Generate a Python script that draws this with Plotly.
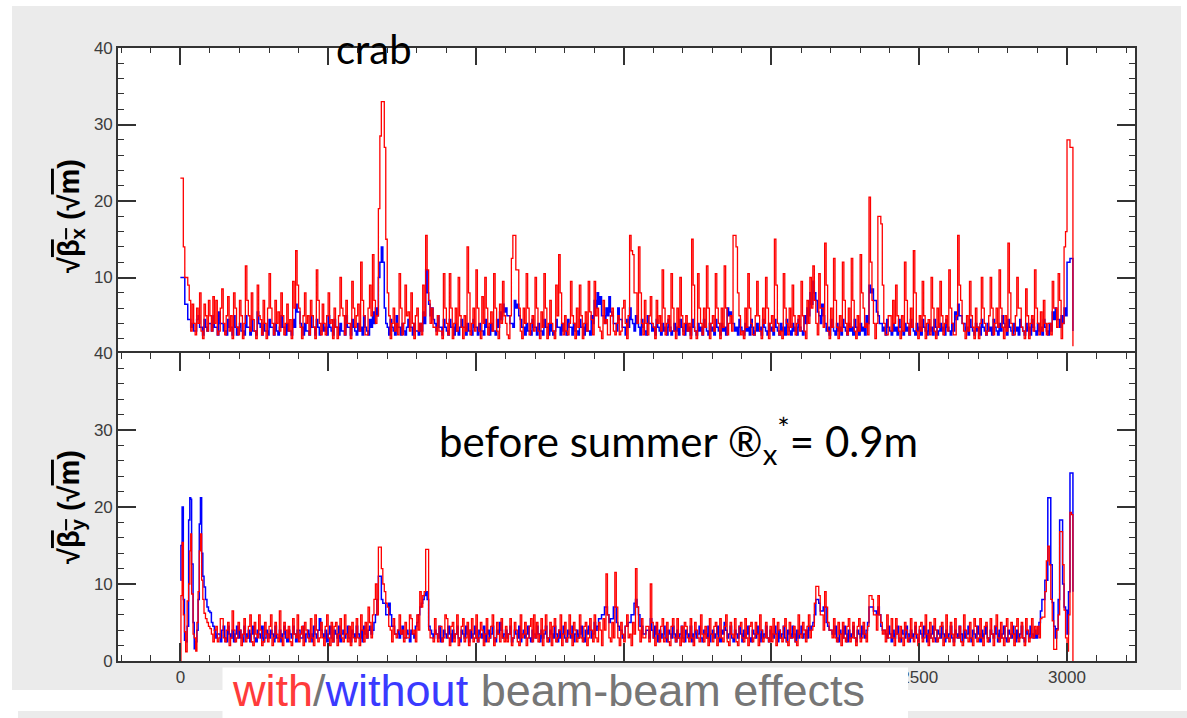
import plotly.graph_objects as go

W, H = 1187, 718

# ---------------- data ----------------
# top panel: sqrt(beta_x), sampled every 5 units of s (one row = 100 units)
s_top = list(range(0, 3025, 5))
red_top = [
    23, 23, 14, 10, 10, 9, 7, 3, 6.5, 4, 2.5, 6, 4, 8, 3, 2, 6.5, 5, 3, 7,
    5, 3, 7.5, 4, 7, 2.5, 3, 6, 8.5, 4, 2.5, 5, 7.5, 3, 5, 2, 8, 6, 3.5, 2.5,
    7, 5, 2, 4, 11.5, 7, 5, 3, 8, 4.5, 3, 2, 9, 5, 4.5, 2.5, 7, 4, 2, 6,
    10.5, 6, 4, 2.5, 7, 4, 5.5, 3, 8, 5, 2.5, 4, 6.5, 3, 4.5, 2, 9.5, 6, 13.5, 9,
    6, 3.5, 2, 5, 8, 4, 5, 2.5, 7, 5, 3.5, 2, 11, 7, 4, 2.5, 6.5, 4, 2.5, 5,
    8, 4, 4.5, 2, 6, 3.5, 2, 5, 10, 6, 5, 2.5, 7, 4, 4, 2, 9.5, 6, 3.5, 5,
    6.5, 3, 12, 7, 5, 2.5, 2.5, 6, 9, 5, 13, 7, 4, 5, 19, 28.5, 33, 33, 27, 15,
    8, 5, 2, 4, 6, 3, 4, 2.5, 10.5, 6, 2.5, 4, 9, 5, 5.5, 3, 8, 4, 2, 5,
    6, 3, 4, 2.5, 9, 5, 15.5, 11, 7, 4, 6, 3.5, 3.5, 2.5, 5, 3, 3, 2, 10.5, 6,
    4, 2.5, 10.5, 6, 2, 4, 6, 3, 10, 5, 3.5, 2, 5, 3, 14, 8, 2.5, 4, 6, 3,
    11, 6, 3, 2, 7.5, 4, 10, 6, 2.5, 4, 5.5, 3, 10.5, 6, 3, 2, 6.5, 4, 9.5, 5,
    4, 2.5, 2, 5, 12.5, 15.5, 15.5, 11, 11, 6, 3, 2, 6, 4, 10.5, 6, 2.5, 4, 5, 3,
    10, 6, 3, 2, 5.5, 3.5, 10.5, 6, 2, 4, 7, 4, 3, 2, 9, 5, 13, 8, 4, 2.5,
    5, 3, 2.5, 4, 9.5, 5, 4, 2, 6, 3.5, 9, 5, 2, 4, 5.5, 3, 9.5, 5.5, 4.5, 2.5,
    9.5, 5, 6, 3.5, 3, 2, 7, 4, 4.5, 2.5, 2.5, 5, 6, 3, 2.5, 4, 5, 2.5, 3, 6,
    7, 4, 2, 5, 15.5, 13.5, 13, 8, 8, 4, 14, 8, 4, 2.5, 7, 4, 2.5, 5, 7.5, 4,
    3.5, 2, 7, 4, 5, 3, 11, 6, 2.5, 4, 5, 3, 10.5, 6, 3, 2, 6, 3.5, 10, 5,
    2.5, 4, 5, 3, 4, 2, 15, 9, 3, 2, 10.5, 6, 4, 2.5, 6, 3.5, 11.5, 6, 2, 4,
    5, 3, 10.5, 6, 4, 2, 6, 3.5, 11.5, 6, 2.5, 4, 5, 3, 15.5, 15.5, 14, 8, 5, 2.5,
    3, 2, 6, 3.5, 10.5, 6, 4, 2.5, 2.5, 5, 9.5, 5, 3, 2, 6, 4, 10, 6, 2, 4,
    5, 3, 15, 9, 4, 2.5, 3, 2, 10.5, 6, 4, 2.5, 6, 3.5, 9, 5, 2.5, 4, 5, 3,
    9.5, 5, 3, 2, 7, 4, 10, 6, 11.5, 7, 4, 2.5, 10.5, 6, 6, 3.5, 14.5, 9, 3, 2,
    6, 3.5, 12.5, 7, 3.5, 2, 5, 3, 12, 7, 4, 2.5, 6, 3.5, 12.5, 7, 3, 2, 5, 3,
    13, 8, 6, 3.5, 4, 2.5, 20.5, 12, 7, 4, 2, 4, 18, 18, 17, 9, 4, 2.5, 2.5, 5,
    5, 3, 7, 4, 9, 5, 3, 2, 5, 3, 12, 7, 4, 2.5, 6, 3.5, 13.5, 8, 3, 2,
    5, 3, 9.5, 5, 2, 4, 4.5, 2.5, 10, 6, 3, 2, 6, 3.5, 9.5, 5, 2.5, 4, 5, 3,
    11, 6, 4, 2.5, 2.5, 5, 15.5, 9, 7, 4, 3, 2, 5, 3, 9.5, 5, 3.5, 2, 6, 3.5,
    2, 4, 10, 6, 4, 2.5, 3, 5, 10, 6, 2.5, 4, 6, 3.5, 11, 6, 3.5, 2, 5, 3,
    14.5, 8, 4, 2.5, 2.5, 5, 10, 6, 6, 3.5, 3, 2, 8.5, 5, 2, 4, 5, 3, 11, 6,
    4, 2.5, 5.5, 3, 7, 4, 2.5, 4, 4, 2.5, 9.5, 6, 6, 3.5, 10.5, 7, 2, 4, 14, 16,
    28, 28, 27, 27, 1,
]
blue_top = [
    10, 10, 10, 6.5, 6.5, 4.5, 4.5, 3.5, 4, 3, 3, 4.5, 5, 3.5, 3.5, 2.5, 4.5, 3.5, 3, 4,
    4, 3, 5, 3.5, 3.5, 2.5, 5.5, 4, 4, 3, 3, 2.5, 4.5, 3.5, 3.5, 2.5, 5, 3.5, 2.5, 3.5,
    4, 3, 3, 2.5, 5, 3.5, 3.5, 2.5, 4.5, 3, 3, 2.5, 5.5, 4, 3.5, 2.5, 4, 3, 3, 2.5,
    4.5, 3.5, 3.5, 2.5, 4, 3, 2.5, 3.5, 5, 3.5, 3.5, 2.5, 4, 3, 3, 2.5, 4.5, 3.5, 6.5, 5.5,
    5.5, 4, 3.5, 2.5, 4, 3, 3, 2.5, 5, 3.5, 3.5, 2.5, 4.5, 3.5, 2.5, 3, 4, 3, 3.5, 2.5,
    5, 3.5, 3, 2.5, 4.5, 3.5, 3.5, 2.5, 4, 3, 3, 2.5, 5, 3.5, 3.5, 2.5, 4.5, 3.5, 3, 2.5,
    4, 3, 3.5, 2.5, 5, 3.5, 3, 2.5, 4.5, 3.5, 5.5, 4, 6, 5, 10, 12, 14, 12, 6, 4,
    3.5, 2.5, 4.5, 3.5, 3, 2.5, 5, 3.5, 3.5, 2.5, 4, 3, 2.5, 3.5, 4.5, 3.5, 3.5, 2.5, 4, 3,
    3, 2.5, 4, 3, 5.5, 4, 11, 8, 6.5, 5, 6, 4.5, 4, 3, 5, 3.5, 3.5, 2.5, 4.5, 3.5,
    3, 2.5, 4.5, 3.5, 3.5, 2.5, 4, 3, 2.5, 3.5, 4.5, 3.5, 3.5, 2.5, 4, 3, 3, 2.5, 4.5, 3.5,
    3.5, 2.5, 4, 3, 3, 2.5, 4.5, 3.5, 3.5, 2.5, 4, 3, 3, 2.5, 4.5, 3.5, 5.5, 4.5, 6.5, 5.5,
    6, 5, 5, 4, 4, 3.5, 7, 6, 6.5, 5, 4.5, 3.5, 3.5, 2.5, 4, 3, 3, 2.5, 4.5, 3.5,
    3.5, 2.5, 4, 3, 3, 2.5, 4.5, 3.5, 3.5, 2.5, 4, 3, 2.5, 3, 4.5, 3.5, 3.5, 2.5, 4, 3,
    3, 2.5, 4.5, 3.5, 3.5, 2.5, 4, 3, 3, 2.5, 4.5, 3.5, 3.5, 2.5, 4, 3, 3, 2.5, 5, 4,
    7, 6, 8, 6.5, 7.5, 5, 5, 4, 6, 5, 7.5, 5.5, 5, 4, 4, 3, 6, 4.5, 4.5, 3.5,
    3.5, 2.5, 4.5, 3.5, 6, 4.5, 4, 3, 5, 4, 3.5, 2.5, 4.5, 3.5, 3, 2.5, 5, 4, 4, 3,
    3.5, 2.5, 4.5, 3.5, 3, 2.5, 4, 3, 3.5, 2.5, 4.5, 3.5, 2.5, 3, 4, 3, 3.5, 2.5, 4.5, 3.5,
    3, 2.5, 4, 3, 3.5, 2.5, 4.5, 3.5, 3, 2.5, 4, 3, 3.5, 2.5, 4.5, 3.5, 3, 2.5, 4, 3,
    3.5, 2.5, 4.5, 3.5, 3, 2.5, 4, 3, 3.5, 2.5, 6, 5, 5.5, 4, 4, 3, 3.5, 2.5, 4.5, 3.5,
    3, 2.5, 4, 3, 3.5, 2.5, 4.5, 3.5, 2.5, 3, 4, 3, 3.5, 2.5, 4.5, 3.5, 3, 2.5, 4, 3,
    3.5, 2.5, 4.5, 3.5, 3, 2.5, 4, 3, 3.5, 2.5, 4.5, 3.5, 3, 2.5, 4, 3, 3.5, 2.5, 4.5, 3.5,
    3, 2.5, 5, 4, 6, 5, 8, 6.5, 9.5, 8, 7, 5.5, 5, 4, 6.5, 5, 4, 3, 3.5, 2.5,
    4.5, 3.5, 3, 2.5, 4, 3, 3.5, 2.5, 4.5, 3.5, 3, 2.5, 4, 3, 3.5, 2.5, 4.5, 3.5, 3, 2.5,
    4, 3, 3.5, 2.5, 5, 4, 9, 8, 8.5, 7, 7, 5.5, 5, 4, 4, 3, 3.5, 2.5, 4.5, 3.5,
    3, 2.5, 4, 3, 3.5, 2.5, 4.5, 3.5, 3, 2.5, 4, 3, 3.5, 2.5, 4.5, 3.5, 3, 2.5, 4, 3,
    3.5, 2.5, 4.5, 3.5, 3, 2.5, 4, 3, 3.5, 2.5, 4.5, 3.5, 2.5, 3, 4, 3, 3.5, 2.5, 4.5, 3.5,
    3, 2.5, 4, 3, 5.5, 4.5, 6.5, 5, 5, 4, 4, 3, 3.5, 2.5, 4.5, 3.5, 3, 2.5, 4, 3,
    3.5, 2.5, 4.5, 3.5, 3, 2.5, 4, 3, 3.5, 2.5, 4.5, 3.5, 3, 2.5, 4, 3, 5, 4, 3.5, 2.5,
    4.5, 3.5, 3, 2.5, 4, 3, 3.5, 2.5, 4.5, 3.5, 3, 2.5, 4, 3, 3.5, 2.5, 4.5, 3.5, 3, 2.5,
    4, 3, 3.5, 2.5, 4.5, 3.5, 3, 2.5, 4, 3, 5.5, 4.5, 6, 4.5, 4.5, 3.5, 5, 4, 6, 5,
    12, 12, 12.5, 12.5, 3,
]

# bottom panel: sqrt(beta_y); finer sampling at the start, then every 5 units
s_bot_head = [0, 2, 6, 10, 14, 18, 23, 28, 32, 35, 38, 43, 47, 52, 56, 60,
              64, 68, 72, 76, 80, 85, 90, 95, 100, 105]
s_bot_body = list(range(110, 2900, 5))
s_bot_tail = list(range(2900, 3025, 5))

red_bot_head = [0, 8.5, 15.4, 6, 3.8, 1.2, 7.8, 10, 14.3, 16.5, 8.7, 3.5, 3,
                1.3, 5, 9, 14.3, 16.5, 10.5, 8, 6.2, 5.5, 5, 4.5, 4.2, 3.5]
blue_bot_head = [10.5, 15, 20, 8, 2.7, 2.5, 4.5, 18.3, 21.2, 21, 12.6, 5, 1.6,
                 2.5, 4, 8, 17.8, 21.2, 14, 11, 9.6, 8, 7, 6.5, 6.3, 5]

red_bot_body = [
    2.5, 4, 4.5, 2.5, 3, 5.5, 5.5, 3, 2.5, 4, 5, 2, 3, 6.5, 4, 2.5, 3, 5,
    4, 2, 3.5, 5.5, 2.5, 3, 4.5, 6, 2.5, 2, 5, 3.5, 3, 6, 4, 2, 2.5, 5, 3.5, 2.5,
    4.5, 6, 2, 3, 5, 3.5, 2.5, 6.5, 3, 2, 5, 4, 3, 4.5, 2.5, 2, 5.5, 3.5, 3, 6,
    2.5, 3.5, 4.5, 2, 5, 4, 3, 2.5, 5.5, 3, 2, 6, 4, 2.5, 3, 5, 3, 2, 4.5, 6,
    3, 2, 5, 2.5, 4.5, 5, 2, 3.5, 5.5, 3, 2.5, 6, 3.5, 2.5, 4.5, 2, 5, 3, 2.5, 5.5,
    3, 2, 6, 4, 2.5, 5, 3, 7, 5, 3, 6, 8, 10, 6, 14.8, 14.8, 12, 10, 9, 7.5,
    7, 4.5, 4, 2.5, 5.5, 3.5, 3, 4, 6, 3.5, 4, 2.5, 5, 3, 3, 6, 5.5, 3.5, 4, 2.5,
    6, 4, 9, 7, 8.5, 9, 14.5, 14.5, 4, 3, 3, 2.5, 5.5, 3.5, 2.5, 4.5, 4.5, 2.5, 3, 6,
    5.5, 3, 2, 4.5, 5, 2.5, 3.5, 6, 2, 3, 4.5, 5.5, 2.5, 3, 5, 2, 4, 5.5, 2.5, 3,
    6, 2.5, 3, 5, 4, 2, 3.5, 5.5, 2.5, 3, 4.5, 6, 2, 3, 5, 3.5, 2.5, 5.5, 3, 2.5,
    4.5, 2.5, 3.5, 5.5, 2, 3, 5, 4, 2.5, 2, 6, 3, 3.5, 5, 2, 3, 4.5, 5.5, 2.5, 6,
    3, 5, 2.5, 3.5, 5.5, 2, 4, 6, 2.5, 3, 5, 2, 4.5, 5.5, 2.5, 3, 4, 6, 2, 3.5,
    5, 2.5, 3, 6, 3.5, 2, 5, 4, 2.5, 3, 6, 3, 2.5, 4.5, 5, 2, 3, 5.5, 4, 2.5,
    6, 3, 2.5, 5, 4, 2, 5.5, 4, 11.3, 6, 3, 2.5, 5, 3, 11.5, 7, 3, 2, 5, 3.5,
    2.5, 4.5, 6, 3, 3.5, 2, 5, 3.5, 12, 7, 4, 2.5, 5.5, 3, 3, 4.5, 4.5, 2.5, 10, 5,
    3, 2, 5, 3.5, 2.5, 4.5, 5.5, 2.5, 3, 5, 2.5, 2, 4.5, 5.5, 3, 2.5, 5.5, 3, 2, 4.5,
    2.5, 5, 4.5, 3, 2.5, 5.5, 3, 2, 5, 4, 3, 2.5, 6, 3.5, 2.5, 4.5, 3, 2, 5.5, 3.5,
    2.5, 4.5, 5, 2, 3, 5.5, 3, 2.5, 4.5, 6, 2.5, 2, 5, 3.5, 3, 5.5, 2.5, 2, 4.5, 5,
    3, 2.5, 5.5, 3, 2, 4.5, 5, 2.5, 3, 5, 3.5, 2, 6, 4, 2.5, 3, 5, 3, 2.5, 4.5,
    2.5, 5.5, 3.5, 2, 5, 4, 3, 2.5, 4.5, 5.5, 2.5, 2, 5, 3, 3, 4.5, 2.5, 2, 6, 3.5,
    3, 5, 4, 2.5, 4.5, 6, 3, 4, 4.5, 7.5, 9.7, 9.7, 8.5, 6, 6, 4, 9, 7, 5, 4,
    4, 3, 5.5, 3, 2.5, 5, 3.5, 2, 5, 3, 2.5, 4.5, 5.5, 2.5, 3, 5, 3, 2, 4.5, 5.5,
    2.5, 3, 5, 3.5, 2.5, 4.5, 8.5, 8.5, 8, 6, 6, 4, 8.5, 6, 5, 3.5, 4, 2.5, 6, 3,
    3, 5.5, 3, 2, 5.5, 3.5, 2.5, 4.5, 3, 2, 5, 4, 2.5, 3, 5.5, 3, 2.5, 5, 3.5, 2,
    4.5, 5, 2.5, 3, 6, 3.5, 2, 5, 3, 2.5, 5.5, 4, 2.5, 3, 4.5, 5, 2, 3, 6, 3,
    2.5, 5, 3.5, 2, 5.5, 3, 3, 4.5, 2.5, 2, 6, 4, 3, 2.5, 5, 3, 2, 5.5, 4.5, 2.5,
    3, 5.5, 3, 2, 4.5, 5, 2.5, 3, 5.5, 3.5, 2, 4.5, 6, 3, 2.5, 5, 3, 2, 4.5, 5.5,
    2.5, 3, 5, 3.5, 2, 4.5, 5.5, 2.5, 3, 5, 3, 2, 5.5, 4, 2.5, 3, 5.5, 3, 4.5, 3.5,
]
blue_bot_body = [
    4.5, 4, 3, 3.5, 3.5, 2.5, 4, 4.5, 3, 2.5, 4.5, 3.5, 3, 4, 2.5, 3.5, 4.5, 3,
    4, 3, 2.5, 4.5, 3.5, 3, 4, 2.5, 3.5, 4.5, 3, 2.5, 4, 3.5, 3, 4.5, 2.5, 3, 4, 3.5,
    3, 4, 3.5, 2.5, 4.5, 3, 3, 4, 2.5, 3.5, 4.5, 3, 2.5, 4, 3.5, 3, 4.5, 3.5, 2.5, 4,
    4, 3, 3, 4.5, 2.5, 3.5, 4, 3, 3.5, 2.5, 4.5, 3.5, 3, 4, 5.5, 4, 3.5, 3, 4, 2.5,
    3.5, 4.5, 3, 2.5, 4, 3.5, 3, 4.5, 2.5, 3.5, 4, 3, 3.5, 4.5, 3, 2.5, 4, 3.5, 3, 4.5,
    3.5, 3, 4, 2.5, 4.5, 3.5, 3, 4, 4.5, 3.5, 4, 5, 6, 8, 11, 11, 8, 7.5, 7.5, 6,
    6, 7.5, 6, 4.5, 4.5, 3.5, 3.5, 4, 3, 3.5, 4.5, 3, 3, 4, 3.5, 2.5, 4, 3.5, 3, 4.5,
    5, 6, 7, 7.5, 8, 8.5, 9, 8, 4.5, 4, 3.5, 3, 4, 3.5, 3, 4.5, 2.5, 3, 4, 3.5,
    3, 4.5, 3.5, 2.5, 4, 3, 3.5, 4.5, 3, 2.5, 4, 3.5, 3, 4.5, 3.5, 2.5, 4, 3, 3.5, 4.5,
    3, 2.5, 4, 3.5, 3, 4.5, 2.5, 3.5, 4, 3, 3.5, 4.5, 3, 2.5, 4, 3.5, 5, 4, 3, 3.5,
    4, 3, 3.5, 4.5, 2.5, 3, 4, 3.5, 3, 4.5, 2.5, 3.5, 4, 3, 3.5, 4.5, 3, 2.5, 4, 3.5,
    3, 4.5, 3.5, 2.5, 4, 3, 3.5, 4.5, 3, 2.5, 4, 3.5, 3, 4.5, 3.5, 2.5, 4, 3, 3.5, 4.5,
    3, 2.5, 4, 3.5, 3, 4.5, 2.5, 3.5, 4, 3, 3.5, 4.5, 3, 2.5, 4, 3.5, 4.5, 4, 3, 3.5,
    5, 4, 4.5, 5.5, 5.5, 6, 6, 7, 7, 6, 5, 5.5, 5.5, 7, 7, 5, 4.5, 4, 4, 3,
    3, 4.5, 4.5, 5, 5, 6, 6, 7.5, 8, 7, 6, 4.5, 4.5, 3.5, 3.5, 4, 4, 3, 5.5, 4,
    3, 4.5, 3.5, 2.5, 4, 3, 3.5, 4.5, 3, 2.5, 4, 3.5, 3, 4.5, 3.5, 2.5, 4, 3, 3.5, 4.5,
    3, 2.5, 4, 3.5, 3, 4.5, 2.5, 3.5, 4, 3, 3.5, 4.5, 3, 2.5, 4, 3.5, 3, 4.5, 2.5, 3.5,
    4, 3, 3.5, 4.5, 3, 2.5, 4, 3.5, 5, 4, 3, 3.5, 4.5, 3, 2.5, 4, 3.5, 3, 4.5, 3.5,
    2.5, 4, 3, 3.5, 4.5, 3, 2.5, 4, 3.5, 3, 4.5, 3.5, 2.5, 4, 3, 3.5, 4.5, 3, 2.5, 4,
    3.5, 3, 4.5, 3.5, 2.5, 4, 3, 3.5, 4.5, 3, 2.5, 4, 3.5, 3, 4.5, 3.5, 2.5, 4, 3, 3.5,
    4.5, 3, 3.5, 4, 3, 4.5, 4, 4.5, 5, 6, 8, 8, 7.5, 6.5, 6.5, 7, 7, 5, 4.5, 4,
    4, 3.5, 3.5, 4.5, 3, 2.5, 4, 3.5, 3, 4.5, 3.5, 2.5, 4, 3, 3.5, 4.5, 3, 2.5, 4, 3.5,
    3, 4.5, 3.5, 3, 4, 5, 7, 7, 7, 6.5, 6.5, 6, 7, 6, 4.5, 4, 4, 3.5, 3, 4.5,
    3.5, 2.5, 4, 3, 3.5, 4.5, 3, 2.5, 4, 3.5, 3, 4.5, 3.5, 2.5, 4, 3, 3.5, 4.5, 3, 2.5,
    4, 3.5, 3, 4.5, 3.5, 2.5, 4, 3, 3.5, 4.5, 3, 2.5, 4, 3.5, 3, 4.5, 3.5, 2.5, 4, 3,
    3.5, 4.5, 3, 2.5, 4, 3.5, 3, 4.5, 3.5, 2.5, 4, 3, 3.5, 4.5, 3, 2.5, 4, 3.5, 3, 4.5,
    3.5, 2.5, 4, 3, 3.5, 4.5, 3, 2.5, 4, 3.5, 3, 4.5, 3.5, 2.5, 4, 3, 3.5, 4.5, 3, 2.5,
    4, 3.5, 3, 4.5, 3.5, 2.5, 4, 3, 3.5, 4.5, 3, 2.5, 4, 3.5, 3, 4.5, 3.5, 3, 4, 3,
]
red_bot_tail = [4.5, 3, 5.5, 5.7, 5.7, 9, 13, 14.9, 12.5, 8, 5.2, 1.5, 1.5,
                4, 6, 16.8, 16.8, 12.5, 6.6, 3, 1.3, 6, 19.3, 19, 0]
blue_bot_tail = [3.5, 5, 6.5, 8, 8, 10.5, 10.5, 21.2, 21.2, 12.5, 7.6, 4.5, 3,
                 4.2, 8, 18.3, 18.3, 10, 7, 6.6, 3.5, 9, 24.4, 24.4, 9]

x_tick_vals = [0, 500, 1000, 1500, 2000, 2500, 3000]
# labels 500-2000 sit under the caption box in the reference, so only these show
x_tick_text = ["0", "", "", "", "", "2500", "3000"]
y_top_ticks = [10, 20, 30, 40]
y_bot_ticks = [0, 10, 20, 30, 40]


def fit(xs, ys):
    n = min(len(xs), len(ys))
    return xs[:n], ys[:n]


s_bot = s_bot_head + s_bot_body + s_bot_tail
red_bot = red_bot_head + red_bot_body + red_bot_tail
blue_bot = blue_bot_head + blue_bot_body + blue_bot_tail

# ---------------- geometry helpers ----------------
def px(x):
    return x / W


def py(y):
    return 1 - y / H


RED = "#ff0000"
BLUE = "#0000ff"
AX = "#333333"

fig = go.Figure()
xt, yt = fit(s_top, blue_top)
fig.add_trace(go.Scatter(x=xt, y=yt, mode="lines", line=dict(color=BLUE, width=1.5, shape="hv"),
                         xaxis="x", yaxis="y", showlegend=False, hoverinfo="skip"))
xt, yt = fit(s_top, red_top)
fig.add_trace(go.Scatter(x=xt, y=yt, mode="lines", line=dict(color=RED, width=1.3, shape="hv"),
                         xaxis="x", yaxis="y", showlegend=False, hoverinfo="skip"))
xb, yb = fit(s_bot, blue_bot)
fig.add_trace(go.Scatter(x=xb, y=yb, mode="lines", line=dict(color=BLUE, width=1.5, shape="hv"),
                         xaxis="x2", yaxis="y2", showlegend=False, hoverinfo="skip"))
xb, yb = fit(s_bot, red_bot)
fig.add_trace(go.Scatter(x=xb, y=yb, mode="lines", line=dict(color=RED, width=1.3, shape="hv"),
                         xaxis="x2", yaxis="y2", showlegend=False, hoverinfo="skip"))

XR = [-211, 3230]
xdom = [px(118), px(1135)]
tickfont = dict(family="Liberation Sans, Arial, sans-serif", size=17, color="#3c3c3c")

common_x = dict(range=XR, domain=xdom, showgrid=False, zeroline=False, fixedrange=True,
                automargin=False)

fig.update_layout(
    width=W, height=H,
    margin=dict(l=0, r=0, t=0, b=0, pad=0, autoexpand=False),
    paper_bgcolor="white",
    plot_bgcolor="white",
    xaxis=dict(**common_x, anchor="y", side="top", showline=True, mirror=True,
               linecolor=AX, linewidth=1.6, ticks="inside", tickmode="array",
               tickvals=x_tick_vals, ticklen=17, tickwidth=1.6, tickcolor=AX,
               showticklabels=False,
               minor=dict(ticks="inside", ticklen=5, dtick=100, tick0=0, tickwidth=1.3, tickcolor=AX)),
    xaxis3=dict(**common_x, anchor="y", overlaying="x", side="bottom", showline=False,
                ticks="inside", dtick=100, tick0=0, ticklen=6, tickwidth=1.3, tickcolor=AX,
                showticklabels=False),
    xaxis2=dict(**common_x, anchor="y2", side="bottom", showline=True, mirror="ticks",
                linecolor=AX, linewidth=1.6, ticks="inside", tickmode="array",
                tickvals=x_tick_vals, ticktext=x_tick_text, ticklen=18, tickwidth=1.6,
                tickcolor=AX, tickfont=tickfont,
                minor=dict(ticks="inside", ticklen=6, dtick=100, tick0=0, tickwidth=1.3, tickcolor=AX)),
    yaxis=dict(domain=[py(354), py(48)], range=[0, 40], anchor="x", showline=True,
               mirror="ticks", linecolor=AX, linewidth=1.6, ticks="inside",
               tickmode="array", tickvals=y_top_ticks, ticktext=[str(v) for v in y_top_ticks],
               ticklen=18, tickwidth=1.6, tickcolor=AX, tickfont=tickfont,
               showgrid=False, zeroline=False, fixedrange=True, automargin=False,
               minor=dict(ticks="inside", ticklen=6, dtick=2, tick0=0, tickwidth=1.3, tickcolor=AX)),
    yaxis2=dict(domain=[py(661), py(353)], range=[0, 40], anchor="x2", showline=True,
                mirror="ticks", linecolor=AX, linewidth=1.6, ticks="inside",
                tickmode="array", tickvals=y_bot_ticks, ticktext=[str(v) for v in y_bot_ticks],
                ticklen=18, tickwidth=1.6, tickcolor=AX, tickfont=tickfont,
                showgrid=False, zeroline=False, fixedrange=True, automargin=False,
                minor=dict(ticks="inside", ticklen=6, dtick=2, tick0=0, tickwidth=1.3, tickcolor=AX)),
)

# background panels of the slide
fig.add_shape(type="rect", xref="paper", yref="paper", x0=px(12), x1=px(1181), y0=py(690), y1=py(6),
              fillcolor="#ebebeb", line=dict(width=0), layer="below")
fig.add_shape(type="rect", xref="paper", yref="paper", x0=px(18), x1=1, y0=0, y1=py(711),
              fillcolor="#ebebeb", line=dict(width=0), layer="below")
# white plotting areas
for xr_, yr_ in (("x domain", "y domain"), ("x2 domain", "y2 domain")):
    fig.add_shape(type="rect", xref=xr_, yref=yr_, x0=0, x1=1, y0=0, y1=1,
                  fillcolor="white", line=dict(width=0), layer="below")
# white caption box covering part of the axis labels
fig.add_shape(type="rect", xref="paper", yref="paper", x0=px(222.5), x1=px(908), y0=0, y1=py(667.5),
              fillcolor="white", line=dict(width=0), layer="above")

ov = "text-decoration:overline"
TFONT = dict(family="Liberation Sans, Arial, sans-serif", size=29, color="black")
fig.add_annotation(xref="paper", yref="paper", x=px(71), y=py(216), textangle=-90, showarrow=False,
                   xanchor="center", yanchor="middle",
                   text=f"<b>√<span style='{ov}'>β<sub>x</sub></span> (√<span style='{ov}'>m</span>)</b>",
                   font=TFONT)
fig.add_annotation(xref="paper", yref="paper", x=px(71), y=py(507), textangle=-90, showarrow=False,
                   xanchor="center", yanchor="middle",
                   text=f"<b>√<span style='{ov}'>β<sub>y</sub></span> (√<span style='{ov}'>m</span>)</b>",
                   font=TFONT)

fig.add_annotation(xref="paper", yref="paper", x=px(374), y=py(49), showarrow=False,
                   xanchor="center", yanchor="middle", text="crab",
                   font=dict(family="Lato, sans-serif", size=40, color="black"))
fig.add_annotation(xref="paper", yref="paper", x=px(678), y=py(440), showarrow=False,
                   xanchor="center", yanchor="middle",
                   text="before summer ®<sub>x</sub><sup>*</sup>= 0.9m",
                   font=dict(family="Lato, sans-serif", size=42, color="black"))
fig.add_annotation(xref="paper", yref="paper", x=px(548), y=py(717), showarrow=False,
                   xanchor="center", yanchor="bottom",
                   text="<span style='color:#ff3b3b'>with</span>/<span style='color:#3a3aff'>without</span> beam-beam effects",
                   font=dict(family="Liberation Sans, Arial, sans-serif", size=45, color="#767676"),
                   borderpad=0)

fig.write_html("out.html", config={"displayModeBar": False, "responsive": False})
